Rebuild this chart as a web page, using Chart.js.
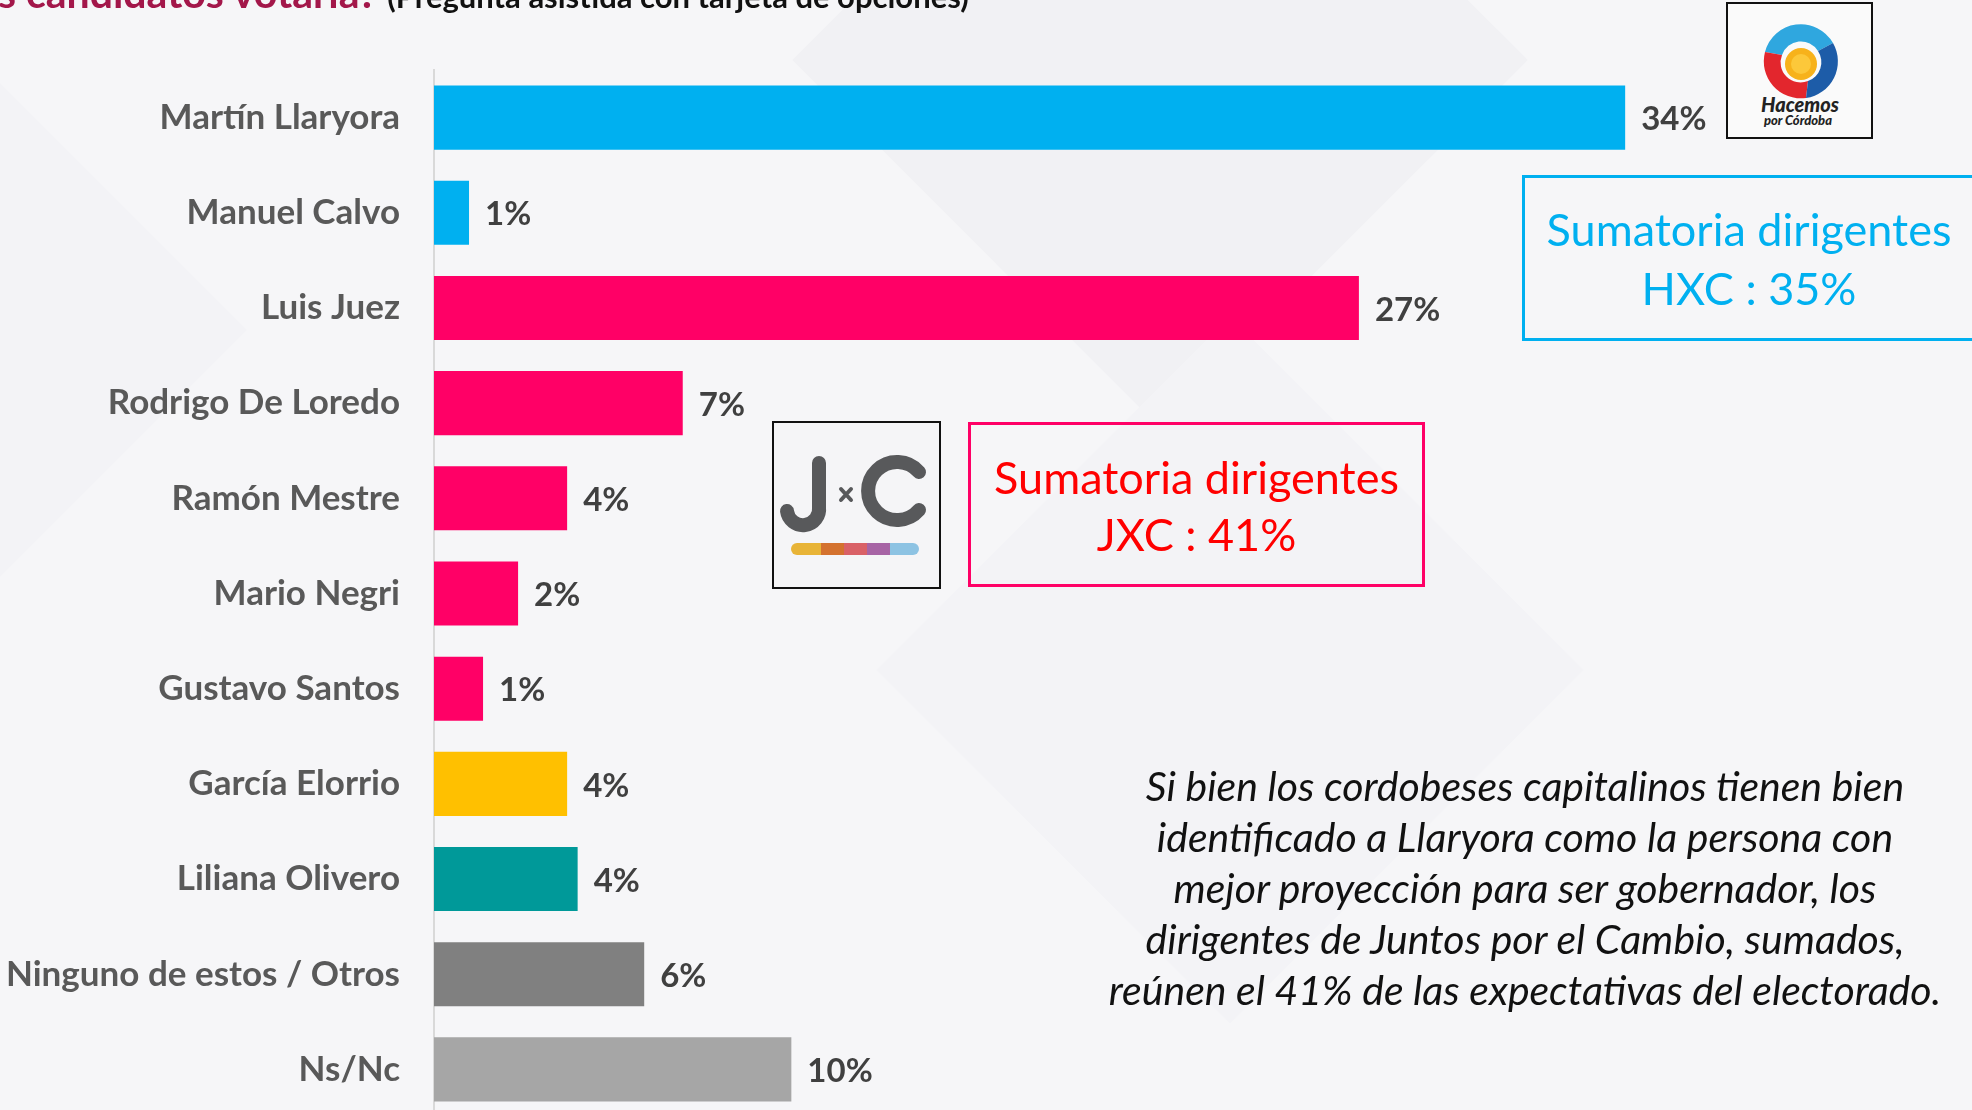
<!DOCTYPE html>
<html>
<head>
<meta charset="utf-8">
<script src="https://cdn.jsdelivr.net/npm/chart.js@4.4.1/dist/chart.umd.min.js"></script>
<style>
  html, body { margin: 0; padding: 0; }
  body { width: 1972px; height: 1110px; overflow: hidden; position: relative; background: #f6f6f8; font-family: Lato, "Open Sans", sans-serif; }
  .bg { position: absolute; background: #f1f1f4; transform: rotate(45deg); }
  #c { position: absolute; left: 0; top: 0; }
  .title { position: absolute; left: -2px; top: -28px; font-size: 41px; line-height: 41px; font-weight: 700; white-space: nowrap; }
  .title .q { color: #a3174a; }
  .title .p { color: #111; font-size: 31px; }
  .box { position: absolute; box-sizing: border-box; }
  .txt { position: absolute; text-align: center; white-space: nowrap; }
</style>
</head>
<body>
<div class="bg" style="left:900px; top:-200px; width:520px; height:520px;"></div>
<div class="bg" style="left:980px; top:420px; width:500px; height:500px; background:#f3f3f6;"></div>
<div class="bg" style="left:-260px; top:120px; width:420px; height:420px; background:#f3f3f6;"></div>

<canvas id="c" width="1972" height="1172"></canvas>

<div class="title"><span class="q">s candidatos votaría?</span> <span class="p">(Pregunta asistida con tarjeta de opciones)</span></div>

<!-- logo Hacemos por Córdoba -->
<div class="box" style="left:1726px; top:2px; width:147px; height:137px; border:2px solid #111; background:#fafafa;">
  <svg width="143" height="133" viewBox="0 0 143 133">
    <g transform="translate(73,57)">
      <path d="M -36 -9 A 37 37 0 0 1 32 -18 L 17 -10 A 20 20 0 0 0 -19 -6 Z" fill="#2fa7df"/>
      <path d="M -36 -9 A 37 37 0 0 0 5 37 L 7 20 A 20 20 0 0 1 -19 -6 Z" fill="#e3262d"/>
      <path d="M 32 -18 A 37 37 0 0 1 5 37 L 7 20 A 20 20 0 0 0 17 -10 Z" fill="#1d5ca8"/>
      <circle cx="0" cy="3" r="16" fill="#f7b21b"/>
      <circle cx="0" cy="3" r="10" fill="#fcc83a"/>
    </g>
    <text x="72" y="108" text-anchor="middle" font-family="Lato" font-style="italic" font-weight="900" font-size="20" fill="#222">Hacemos</text>
    <text x="70" y="121" text-anchor="middle" font-family="Lato" font-style="italic" font-weight="900" font-size="13" fill="#222">por Córdoba</text>
  </svg>
</div>

<!-- caja HXC -->
<div class="box" style="left:1522px; top:175px; width:470px; height:166px; border:3px solid #00b0f0;"></div>
<div class="txt" style="left:1522px; width:454px; top:200px; font-size:45px; line-height:59px; color:#00b0f0;">Sumatoria dirigentes<br>HXC : 35%</div>

<!-- logo JxC -->
<div class="box" style="left:772px; top:421px; width:169px; height:168px; border:2px solid #111; background:#f5f5f7;">
  <svg width="165" height="164" viewBox="0 0 165 164">
    <path d="M 45 40 L 45 84 A 16 16 0 0 1 13 88" fill="none" stroke="#58595b" stroke-width="14" stroke-linecap="round"/>
    <path d="M 67 66 L 77 77 M 77 66 L 67 77" stroke="#58595b" stroke-width="4" stroke-linecap="round"/>
    <path d="M 145 49 A 29 29 0 1 0 145 87" fill="none" stroke="#58595b" stroke-width="14" stroke-linecap="round"/>
    <rect x="23" y="120" width="24" height="12" fill="#e8b437"/>
    <rect x="47" y="120" width="23" height="12" fill="#d4722f"/>
    <rect x="70" y="120" width="23" height="12" fill="#d96167"/>
    <rect x="93" y="120" width="23" height="12" fill="#a764a5"/>
    <rect x="116" y="120" width="23" height="12" fill="#8dc3e3"/>
    <circle cx="23" cy="126" r="6" fill="#e8b437"/>
    <circle cx="139" cy="126" r="6" fill="#8dc3e3"/>
  </svg>
</div>

<!-- caja JXC -->
<div class="box" style="left:968px; top:422px; width:457px; height:165px; border:3px solid #ff0066;"></div>
<div class="txt" style="left:968px; width:457px; top:449px; font-size:45px; line-height:57px; color:#ff0000;">Sumatoria dirigentes<br>JXC : 41%</div>

<!-- comentario -->
<div class="txt" style="left:925px; width:1200px; top:760px; font-size:41px; line-height:51px; font-style:italic; font-weight:400; color:#111;">Si bien los cordobeses capitalinos tienen bien<br>identificado a Llaryora como la persona con<br>mejor proyección para ser gobernador, los<br>dirigentes de Juntos por el Cambio, sumados,<br>reúnen el 41% de las expectativas del electorado.</div>

<script>
// datos
const candidatos = ["Martín Llaryora", "Manuel Calvo", "Luis Juez", "Rodrigo De Loredo", "Ramón Mestre",
  "Mario Negri", "Gustavo Santos", "García Elorrio", "Liliana Olivero", "Ninguno de estos / Otros", "Ns/Nc"];
const valores = [34, 1.0, 26.4, 7.1, 3.8, 2.4, 1.4, 3.8, 4.1, 6.0, 10.2];
const etiquetas = ["34%", "1%", "27%", "7%", "4%", "2%", "1%", "4%", "4%", "6%", "10%"];
const colores = ["#00b0f0", "#00b0f0", "#ff0066", "#ff0066", "#ff0066", "#ff0066", "#ff0066",
  "#ffc000", "#009999", "#808080", "#a6a6a6"];

// etiquetas de valor al final de cada barra
const etiquetasBarras = {
  id: "etiquetasBarras",
  afterDatasetsDraw(chart) {
    const ctx = chart.ctx;
    ctx.save();
    ctx.font = "bold 33px Lato";
    ctx.fillStyle = "#404040";
    ctx.textBaseline = "middle";
    chart.getDatasetMeta(0).data.forEach((bar, i) => {
      ctx.fillText(etiquetas[i], bar.x + 16, bar.y + 2);
    });
    ctx.restore();
  }
};

new Chart(document.getElementById("c"), {
  type: "bar",
  data: {
    labels: candidatos,
    datasets: [{
      data: valores,
      backgroundColor: colores,
      borderWidth: 0,
      barPercentage: 0.9,
      categoryPercentage: 0.748
    }]
  },
  options: {
    indexAxis: "y",
    responsive: false,
    animation: false,
    layout: { padding: { top: 70, bottom: 3, left: 0, right: 0 } },
    plugins: { legend: { display: false }, tooltip: { enabled: false } },
    scales: {
      x: { display: false, min: 0, max: 43.9 },
      y: {
        afterFit: s => { s.width = 434; },
        grid: { display: false, drawTicks: false },
        border: { display: true, color: "#d9d9d9", width: 2 },
        ticks: { padding: 34, color: "#595959", font: { family: "Lato", size: 35, weight: "bold" } }
      }
    }
  },
  plugins: [etiquetasBarras]
});
</script>
</body>
</html>
